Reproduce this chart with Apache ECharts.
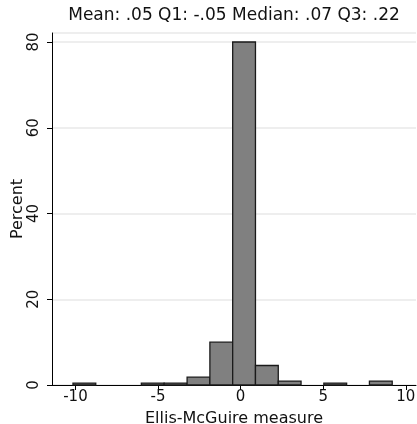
<!DOCTYPE html>
<html>
<head>
<meta charset="utf-8">
<script src="https://cdn.jsdelivr.net/npm/echarts@6/dist/echarts.min.js"></script>
<style>
  html, body { margin: 0; padding: 0; background: #fff; }
  #chart { width: 417px; height: 424px; }
</style>
</head>
<body>
<div id="chart"></div>
<script>
// bin edges and percent per bin
var binEdges = [-10.15, -8.77, -7.39, -6.01, -4.63, -3.24, -1.86, -0.48, 0.90, 2.28, 3.66, 5.04, 6.42, 7.80, 9.18];
var percents = [0.45, 0, 0, 0.45, 0.45, 1.82, 10.0, 80.0, 4.55, 0.91, 0, 0.45, 0, 0.91];
var xTicks = [-10, -5, 0, 5, 10];
var titleText = 'Mean: .05 Q1: -.05 Median: .07 Q3: .22';

var font = 'DejaVu Sans';
var bins = [];
percents.forEach(function (p, i) {
  if (p > 0) bins.push([binEdges[i], binEdges[i + 1], p]);
});

var chart = echarts.init(document.getElementById('chart'));
chart.setOption({
  animation: false,
  title: {
    text: titleText,
    left: 229,
    top: 2,
    textAlign: 'center',
    textStyle: { fontFamily: font, fontSize: 17, fontWeight: 'normal', color: '#111' }
  },
  grid: { left: 52, right: 1, top: 33, bottom: 39, outerBoundsMode: 'none', containLabel: false },
  xAxis: {
    type: 'value',
    min: -11.42,
    max: 10.62,
    name: 'Ellis-McGuire measure',
    nameLocation: 'middle',
    nameGap: 26,
    nameTextStyle: { fontFamily: font, fontSize: 16, color: '#111' },
    axisLine: { show: true, onZero: false, lineStyle: { color: '#000', width: 1 } },
    axisTick: { show: true, length: 5, customValues: xTicks, lineStyle: { color: '#000' } },
    axisLabel: { customValues: xTicks, fontFamily: font, fontSize: 15, color: '#111', margin: 5, showMinLabel: true, showMaxLabel: true },
    splitLine: { show: false }
  },
  yAxis: {
    type: 'value',
    min: 0,
    max: 82.1,
    interval: 20,
    name: 'Percent',
    nameLocation: 'middle',
    nameGap: 26,
    nameMoveOverlap: false,
    nameTextStyle: { fontFamily: font, fontSize: 16, color: '#111' },
    axisLine: { show: true, onZero: false, lineStyle: { color: '#000', width: 1 } },
    axisTick: { show: true, length: 5, lineStyle: { color: '#000' } },
    axisLabel: { rotate: 90, fontFamily: font, fontSize: 15, color: '#111', margin: 10, showMaxLabel: false },
    splitLine: { show: true, lineStyle: { color: '#e8e8e8', width: 1.5 } }
  },
  series: [{
    type: 'custom',
    data: bins,
    renderItem: function (params, api) {
      var p0 = api.coord([api.value(0), api.value(2)]);
      var p1 = api.coord([api.value(1), 0]);
      return {
        type: 'rect',
        shape: { x: p0[0], y: p0[1], width: p1[0] - p0[0], height: p1[1] - p0[1] },
        style: { fill: '#808080', stroke: '#1a1a1a', lineWidth: 1.3 }
      };
    },
    z: 3
  }]
});
</script>
</body>
</html>
